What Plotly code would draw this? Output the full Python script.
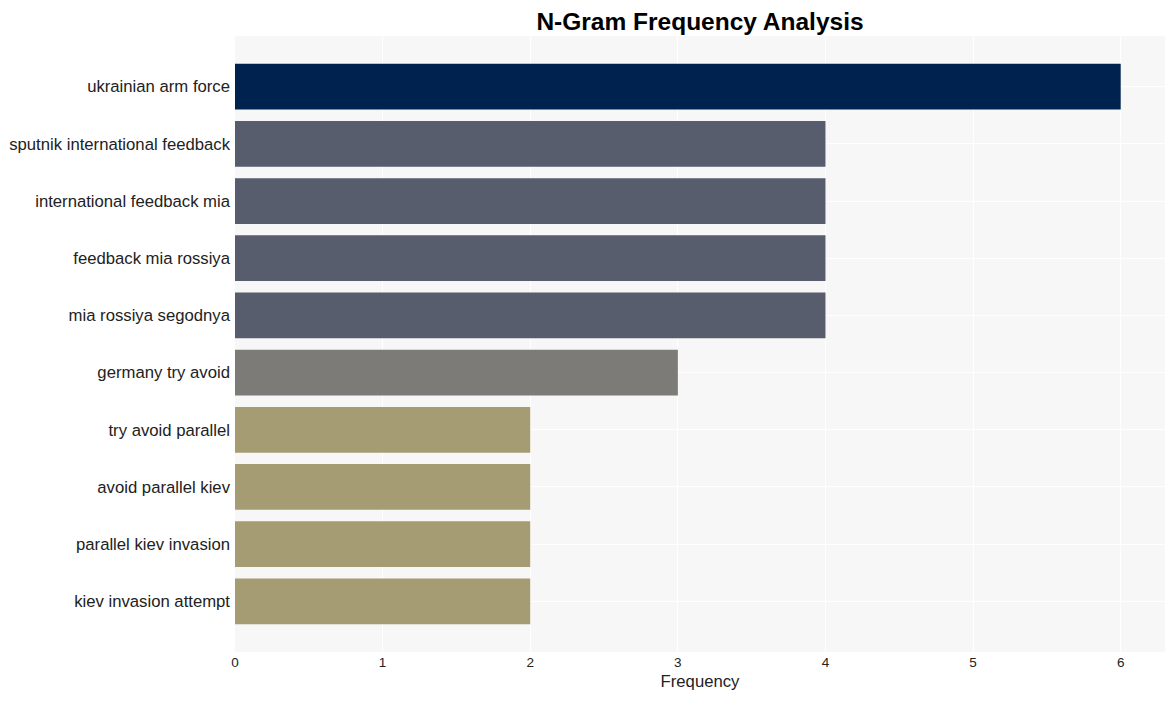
import plotly.graph_objects as go

ngrams = [
    "ukrainian arm force",
    "sputnik international feedback",
    "international feedback mia",
    "feedback mia rossiya",
    "mia rossiya segodnya",
    "germany try avoid",
    "try avoid parallel",
    "avoid parallel kiev",
    "parallel kiev invasion",
    "kiev invasion attempt",
]
counts = [6, 4, 4, 4, 4, 3, 2, 2, 2, 2]
color_map = {6: "#00224e", 4: "#575d6d", 3: "#7c7b78", 2: "#a59c74"}
colors = [color_map[c] for c in counts]

fig = go.Figure(
    go.Bar(
        x=counts,
        y=ngrams,
        orientation="h",
        marker=dict(color=colors, line=dict(width=0)),
        width=0.8,
    )
)

W, H = 1159, 685
fig.update_layout(
    width=W,
    height=H,
    margin=dict(l=227, r=2, t=28, b=41),
    paper_bgcolor="white",
    plot_bgcolor="#f7f7f7",
    font=dict(family="Arial, Liberation Sans, sans-serif", color="#222"),
    title=dict(
        text="<b>N-Gram Frequency Analysis</b>",
        x=692 / W,
        xanchor="center",
        y=1 - 13 / H,
        yanchor="middle",
        font=dict(size=24.5, color="black"),
    ),
    showlegend=False,
)
fig.update_xaxes(
    range=[0, 6.3],
    tickvals=[0, 1, 2, 3, 4, 5, 6],
    showgrid=True,
    gridcolor="white",
    gridwidth=1,
    zeroline=False,
    tickfont=dict(size=13.5),
    title=dict(text="Frequency", font=dict(size=16.7), standoff=6),
)
fig.update_yaxes(
    categoryorder="array",
    categoryarray=ngrams,
    range=[9.885, -0.885],
    showgrid=True,
    gridcolor="white",
    tickfont=dict(size=16.7),
    ticks="",
    ticklabelstandoff=4,
)

fig.write_html("out.html")
